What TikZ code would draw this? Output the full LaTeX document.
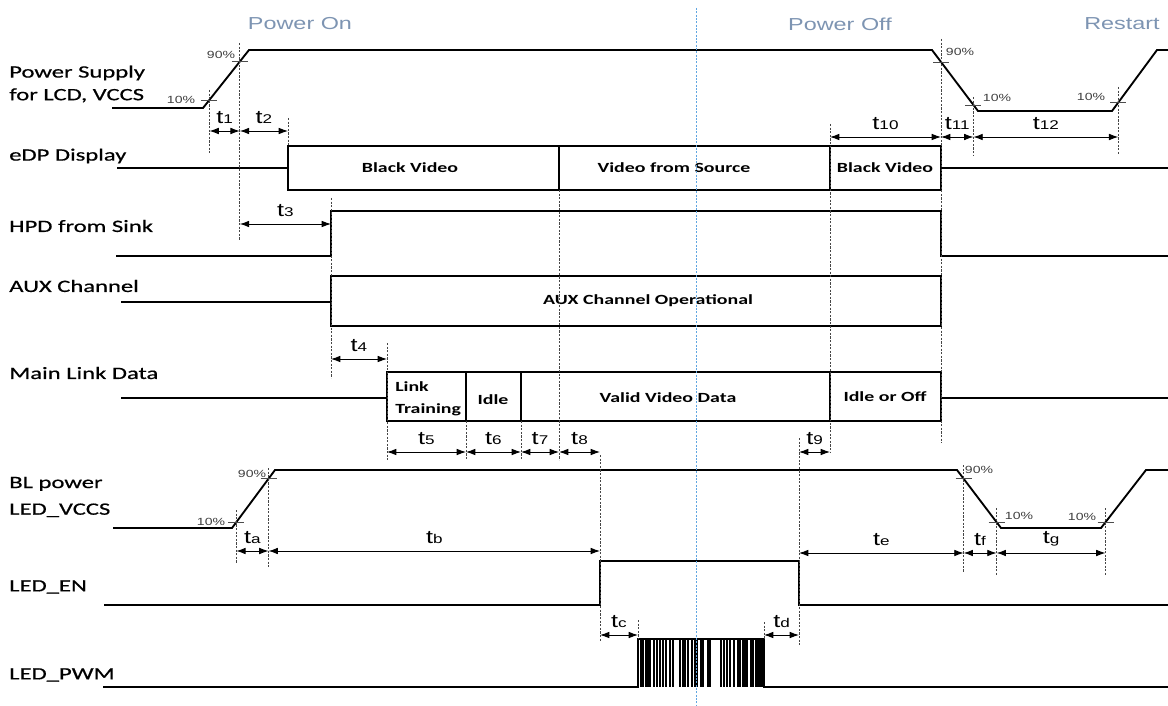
\documentclass[tikz,border=0pt]{standalone}
\usepackage{fontspec}
\usetikzlibrary{arrows.meta,calc}
\newfontfamily\sigfont[FakeStretch=1.42]{Carlito}
\newfontfamily\lblfont[FakeStretch=1.42,FakeBold=0.6]{Carlito}
\newfontfamily\hdfont[FakeStretch=1.35]{Liberation Sans}
\definecolor{hdblue}{RGB}{125,148,178}
\definecolor{midblue}{RGB}{95,165,225}
\definecolor{dashgray}{RGB}{70,70,70}
\newcommand\tsub[1]{t{\fontsize{9.5}{11}\selectfont#1}}

\begin{document}
\begin{tikzpicture}[x=0.75pt, y=-0.75pt,
    sig/.style={line width=1.4pt, line join=miter},
    vline/.style={dashgray, line width=0.5pt, dash pattern=on 1.6pt off 1.1pt},
    dim/.style={{Latex[length=7pt,width=5pt]}-{Latex[length=7pt,width=5pt]}, line width=0.7pt},
    tick/.style={line width=0.5pt, black!70},
    lbl/.style={anchor=west, inner sep=0pt, align=left,
                font=\lblfont\fontsize{13}{17}\selectfont},
    seg/.style={inner sep=0pt, font=\sigfont\bfseries\fontsize{10.5}{12.5}\selectfont},
    pct/.style={inner sep=0pt, black!75, font=\hdfont\fontsize{7.8}{9}\selectfont},
    phase/.style={inner sep=0pt, hdblue, font=\hdfont\fontsize{13}{15}\selectfont},
    tl/.style={above=5pt, inner sep=0pt, font=\hdfont\fontsize{14}{16}\selectfont}
  ]
  \useasboundingbox (0,0) rectangle (1168,706);

  \node[phase] (hOn)  at (300,24)  {Power On};
  \node[phase] (hOff) at (840,24)  {Power Off};
  \node[phase] (hRe)  at (1122,24) {Restart};

  \node[lbl] (nPS)  at (9,84)  {Power Supply\\for LCD, VCCS};
  \node[lbl] (nEDP) at (9,156) {eDP Display};
  \node[lbl] (nHPD) at (9,226) {HPD from Sink};
  \node[lbl] (nAUX) at (9,286) {AUX Channel};
  \node[lbl] (nML)  at (9,373) {Main Link Data};
  \node[lbl, font=\lblfont\fontsize{13}{20}\selectfont] (nBL) at (9,497) {BL power\\LED\_VCCS};
  \node[lbl] (nEN)  at (9,587) {LED\_EN};
  \node[lbl] (nPWM) at (9,675) {LED\_PWM};

  \foreach \n/\x in {tC/288, tD/331, tE/387, tF/466, tG/521, tH/559,
                     tI/600, tJ/638, tK/764, tL/799, tM/830, tN/941}
    \coordinate (\n) at (\x,0);

  % supply ramps
  \draw[sig] (112,108) -- (203,108) coordinate (psR0) -- (249,50) coordinate (psR1)
    -- (932,50) coordinate (psF0) -- (978,111) coordinate (psF1)
    -- (1112,111) coordinate (psS0) -- (1157,50) coordinate (psS1) -- (1168,50);
  \coordinate (pA) at ($(psR0)!0.14!(psR1)$);
  \coordinate (pB) at ($(psR0)!0.8!(psR1)$);
  \coordinate (pN) at ($(psF0)!0.2!(psF1)$);
  \coordinate (pO) at ($(psF0)!0.9!(psF1)$);
  \coordinate (pP) at ($(psS0)!0.14!(psS1)$);

  \draw[sig] (113,528) -- (232,528) coordinate (bR0) -- (275,470) coordinate (bR1)
    -- (957,470) coordinate (bF0) -- (1001,528) coordinate (bF1)
    -- (1101,528) coordinate (bS0) -- (1146,470) coordinate (bS1) -- (1168,470);
  \coordinate (ba) at ($(bR0)!0.1!(bR1)$);
  \coordinate (bb) at ($(bR0)!0.85!(bR1)$);
  \coordinate (be) at ($(bF0)!0.15!(bF1)$);
  \coordinate (bf) at ($(bF0)!0.9!(bF1)$);
  \coordinate (bg) at ($(bS0)!0.1!(bS1)$);

  \foreach \m in {pA,pB,pN,pO,pP,ba,bb,be,bf,bg}
    \draw[tick] ($(\m)+(-8,0)$) -- ($(\m)+(8,0)$);

  \node[pct] (q1) at (181,100)  {10\%};
  \node[pct] (q2) at (221,55)   {90\%};
  \node[pct] (q3) at (960,52)   {90\%};
  \node[pct] (q4) at (997,98)   {10\%};
  \node[pct] (q5) at (1091,97)  {10\%};
  \node[pct] (q6) at (211,522)  {10\%};
  \node[pct] (q7) at (252,474)  {90\%};
  \node[pct] (q8) at (979,470)  {90\%};
  \node[pct] (q9) at (1019,516) {10\%};
  \node[pct] (q10) at (1082,517) {10\%};

  % eDP display
  \draw[sig] (117,168) -- (tC |- 0,168);
  \draw[sig] (tC |- 0,146) rectangle (tN |- 0,190);
  \draw[sig] (tH |- 0,146) -- (tH |- 0,190);
  \draw[sig] (tM |- 0,146) -- (tM |- 0,190);
  \draw[sig] (tN |- 0,168) -- (1168,168);
  \node[seg] (bv1) at (410,168) {Black Video};
  \node[seg] (vfs) at (674,168) {Video from Source};
  \node[seg] (bv2) at (885,168) {Black Video};

  % HPD and AUX
  \draw[sig] (116,256) -- (tD |- 0,256) -- (tD |- 0,211) -- (tN |- 0,211)
    -- (tN |- 0,256) -- (1168,256);
  \draw[sig] (121,302) -- (tD |- 0,302);
  \draw[sig] (tD |- 0,276) rectangle (tN |- 0,326);
  \node[seg] (auxop) at (648,301) {AUX Channel Operational};

  % main link
  \draw[sig] (121,398) -- (tE |- 0,398);
  \draw[sig] (tE |- 0,372) rectangle (tN |- 0,421);
  \foreach \n in {tF,tG,tM}
    \draw[sig] (\n |- 0,372) -- (\n |- 0,421);
  \draw[sig] (tN |- 0,398) -- (1168,398);
  \node[seg, anchor=west, align=left, font=\sigfont\bfseries\fontsize{10.5}{16.5}\selectfont]
    (ltr) at (395,399) {Link\\Training};
  \node[seg] (idl) at (493,400) {Idle};
  \node[seg] (vvd) at (668,398) {Valid Video Data};
  \node[seg] (iof) at (885,397) {Idle or Off};

  % backlight enable and pwm
  \draw[sig] (104,605) -- (tI |- 0,605) -- (tI |- 0,561) -- (tL |- 0,561)
    -- (tL |- 0,605) -- (1168,605);
  \draw[sig] (103,687) -- (tJ |- 0,687) -- (tJ |- 0,639) -- (tK |- 0,639)
    -- (tK |- 0,687) -- (1168,687);
  \foreach \d in {3,5,8,10,12,16,19,22,25,28,32,35,42,45,47,50,54,57,59,63,65,70,72,
                  83,86,89,92,96,100,102,105,107,109,113,115,118,120,122,124}
    \draw[line width=1.3pt] ({638+\d},639) -- ({638+\d},687);

  % guide lines
  \draw[vline] (pA |- 0,90)  -- (pA |- 0,153);
  \draw[vline] (pB |- 0,43)  -- (pB |- 0,240);
  \draw[vline] (tC |- 0,118) -- (tC |- 0,146);
  \draw[vline] (tD |- 0,198) -- (tD |- 0,378);
  \draw[vline] (tE |- 0,343) -- (tE |- 0,460);
  \draw[vline] (tF |- 0,421) -- (tF |- 0,460);
  \draw[vline] (tG |- 0,421) -- (tG |- 0,460);
  \draw[vline] (tH |- 0,190) -- (tH |- 0,460);
  \draw[vline] (tI |- 0,455) -- (tI |- 0,642);
  \draw[vline] (tJ |- 0,620) -- (tJ |- 0,639);
  \draw[vline] (tK |- 0,622) -- (tK |- 0,639);
  \draw[vline] (tL |- 0,438) -- (tL |- 0,645);
  \draw[vline] (tM |- 0,124) -- (tM |- 0,453);
  \draw[vline] (tN |- 0,39)  -- (tN |- 0,443);
  \draw[vline] (pO |- 0,97)  -- (pO |- 0,155);
  \draw[vline] (pP |- 0,87)  -- (pP |- 0,155);
  \draw[vline] (ba |- 0,510) -- (ba |- 0,563);
  \draw[vline] (bb |- 0,468) -- (bb |- 0,567);
  \draw[vline] (be |- 0,465) -- (be |- 0,572);
  \draw[vline] (bf |- 0,508) -- (bf |- 0,575);
  \draw[vline] (bg |- 0,508) -- (bg |- 0,575);

  % timing intervals
  \draw[dim] (pA |- 0,131) -- node[tl] {\tsub{1}}  (pB |- 0,131);
  \draw[dim] (pB |- 0,131) -- node[tl] {\tsub{2}}  (tC |- 0,131);
  \draw[dim] (pB |- 0,224) -- node[tl] {\tsub{3}}  (tD |- 0,224);
  \draw[dim] (tD |- 0,359) -- node[tl] {\tsub{4}}  (tE |- 0,359);
  \draw[dim] (tE |- 0,452) -- node[tl] {\tsub{5}}  (tF |- 0,452);
  \draw[dim] (tF |- 0,452) -- node[tl] {\tsub{6}}  (tG |- 0,452);
  \draw[dim] (tG |- 0,452) -- node[tl] {\tsub{7}}  (tH |- 0,452);
  \draw[dim] (tH |- 0,452) -- node[tl] {\tsub{8}}  (tI |- 0,452);
  \draw[dim] (tL |- 0,452) -- node[tl] {\tsub{9}}  (tM |- 0,452);
  \draw[dim] (tM |- 0,137) -- node[tl] {\tsub{10}} (tN |- 0,137);
  \draw[dim] (tN |- 0,137) -- node[tl] {\tsub{11}} (pO |- 0,137);
  \draw[dim] (pO |- 0,137) -- node[tl] {\tsub{12}} (pP |- 0,137);
  \draw[dim] (ba |- 0,551) -- node[tl] {\tsub{a}}  (bb |- 0,551);
  \draw[dim] (bb |- 0,551) -- node[tl] {\tsub{b}}  (tI |- 0,551);
  \draw[dim] (tI |- 0,635) -- node[tl] {\tsub{c}}  (tJ |- 0,635);
  \draw[dim] (tK |- 0,635) -- node[tl] {\tsub{d}}  (tL |- 0,635);
  \draw[dim] (tL |- 0,553) -- node[tl] {\tsub{e}}  (be |- 0,553);
  \draw[dim] (be |- 0,553) -- node[tl] {\tsub{f}}  (bf |- 0,553);
  \draw[dim] (bf |- 0,553) -- node[tl] {\tsub{g}}  (bg |- 0,553);

  \draw[midblue, line width=0.5pt, dash pattern=on 1.5pt off 1pt] (696,8) -- (696,706);
\end{tikzpicture}
\end{document}
